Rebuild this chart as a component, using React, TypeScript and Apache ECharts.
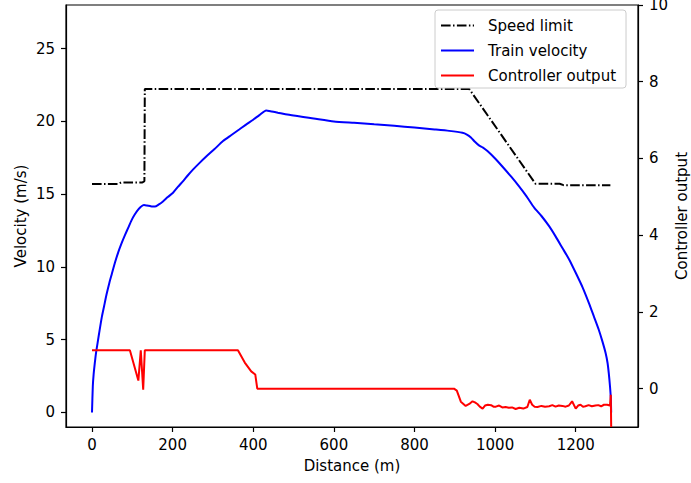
import React, { useEffect, useRef } from "react";
import * as echarts from "echarts";

const xTicks = [0, 200, 400, 600, 800, 1000, 1200];
const yLeftTicks = [0, 5, 10, 15, 20, 25];
const yRightTicks = [0, 2, 4, 6, 8, 10];

const limitDist = [0, 65, 72, 125, 130, 131, 131, 936, 1100, 1160, 1170, 1286];
const limitVals = [15.7, 15.7, 15.8, 15.8, 15.9, 15.9, 22.22, 22.22, 15.72, 15.72, 15.62, 15.62];

const velDist = [0, 2, 4, 7, 10, 14, 18, 24, 30, 36, 43, 49, 57, 65, 73, 82, 90, 98, 106, 115, 122, 129, 136, 144, 150, 156, 165, 176, 188, 201, 213, 226, 238, 251, 267, 284, 304, 325, 345, 366, 383, 399, 416, 432, 446, 461, 500, 550, 600, 650, 700, 750, 800, 850, 886, 919, 930, 940, 950, 960, 970, 981, 1000, 1018, 1040, 1059, 1078, 1097, 1115, 1134, 1150, 1167, 1184, 1200, 1217, 1233, 1245, 1257, 1266, 1274, 1279, 1282, 1285, 1287, 1288];
const velVals = [0, 1.8, 2.6, 3.4, 4.1, 4.8, 5.5, 6.5, 7.3, 8.1, 8.9, 9.5, 10.3, 11.0, 11.6, 12.2, 12.7, 13.2, 13.6, 13.95, 14.15, 14.25, 14.22, 14.18, 14.15, 14.15, 14.28, 14.5, 14.8, 15.1, 15.5, 15.9, 16.3, 16.7, 17.15, 17.6, 18.1, 18.65, 19.05, 19.46, 19.8, 20.1, 20.45, 20.75, 20.68, 20.6, 20.4, 20.2, 20.0, 19.9, 19.8, 19.7, 19.58, 19.45, 19.35, 19.22, 19.1, 18.9, 18.6, 18.35, 18.2, 17.96, 17.45, 16.9, 16.2, 15.55, 14.85, 14.07, 13.5, 12.8, 12.1, 11.3, 10.5, 9.6, 8.6, 7.5, 6.6, 5.7, 4.9, 4.1, 3.4, 2.7, 1.8, 1.0, 0];

const ctrlDist = [0, 94, 115, 121, 127, 131, 362, 379, 395, 405, 410, 898, 905, 915, 927, 936, 944, 950, 956, 962, 969, 975, 982, 990, 996, 1002, 1010, 1018, 1026, 1034, 1042, 1051, 1060, 1070, 1080, 1086, 1092, 1098, 1105, 1115, 1124, 1134, 1142, 1150, 1158, 1167, 1175, 1183, 1191, 1200, 1206, 1212, 1218, 1224, 1232, 1240, 1249, 1256, 1263, 1270, 1278, 1285, 1287, 1288];
const ctrlVals = [1, 1, 0.21, 1, -0.03, 1, 1, 0.68, 0.45, 0.37, 0, 0, -0.05, -0.34, -0.45, -0.4, -0.33, -0.36, -0.4, -0.47, -0.52, -0.44, -0.42, -0.43, -0.47, -0.47, -0.44, -0.49, -0.48, -0.5, -0.49, -0.53, -0.5, -0.52, -0.48, -0.29, -0.42, -0.47, -0.48, -0.45, -0.47, -0.46, -0.43, -0.47, -0.44, -0.45, -0.47, -0.44, -0.33, -0.52, -0.44, -0.42, -0.47, -0.46, -0.43, -0.46, -0.44, -0.43, -0.46, -0.42, -0.42, -0.44, -0.16, -1];

const zip = (a: number[], b: number[]) => a.map((x, i) => [x, b[i]]);

const FONT = "DejaVu Sans";

export default function App() {
  const ref = useRef<HTMLDivElement>(null);
  useEffect(() => {
    if (!ref.current) return;
    const chart = echarts.init(ref.current, undefined, { renderer: "svg" });
    const axisCommon = {
      axisLine: { show: true, onZero: false, lineStyle: { color: "#000", width: 1.2 } },
      axisTick: { show: true, inside: false, length: 5, lineStyle: { color: "#000", width: 1.2 } },
      splitLine: { show: false },
      nameMoveOverlap: false,
      nameTextStyle: { color: "#000", fontSize: 15, fontFamily: FONT },
    };
    const labelStyle = { color: "#000", fontSize: 15, fontFamily: FONT, formatter: (v: number) => String(v) };
    chart.setOption({
      animation: false,
      backgroundColor: "#fff",
      grid: {
        left: 66, right: 53, top: 5, bottom: 56,
        containLabel: false, outerBoundsMode: "none",
        show: true, borderColor: "#000", borderWidth: 1.2, backgroundColor: "transparent",
      },
      legend: {
        orient: "vertical",
        left: 435,
        top: 10,
        padding: [8, 10, 5, 5],
        itemWidth: 33,
        itemHeight: 14,
        itemGap: 10,
        backgroundColor: "rgba(255,255,255,0.8)",
        borderColor: "#cccccc",
        borderWidth: 1,
        borderRadius: 3,
        itemStyle: { opacity: 0 },
        textStyle: { fontSize: 15, fontFamily: FONT, color: "#000", padding: [0, 0, 0, 9] },
        data: ["Speed limit", "Train velocity", "Controller output"],
      },
      xAxis: {
        type: "value",
        min: -64.5,
        max: 1354.5,
        name: "Distance (m)",
        nameLocation: "middle",
        nameGap: 31,
        ...axisCommon,
        axisTick: { ...axisCommon.axisTick, customValues: xTicks },
        axisLabel: { ...labelStyle, customValues: xTicks, margin: 10 },
      },
      yAxis: [
        {
          type: "value",
          min: -1,
          max: 28,
          name: "Velocity (m/s)",
          nameLocation: "middle",
          nameGap: 38,
          ...axisCommon,
          axisTick: { ...axisCommon.axisTick, customValues: yLeftTicks },
          axisLabel: { ...labelStyle, customValues: yLeftTicks, margin: 11 },
        },
        {
          type: "value",
          min: -1,
          max: 10,
          position: "right",
          name: "Controller output",
          nameLocation: "middle",
          nameGap: 36,
          nameRotate: 90,
          ...axisCommon,
          axisTick: { ...axisCommon.axisTick, customValues: yRightTicks },
          axisLabel: { ...labelStyle, customValues: yRightTicks, margin: 11 },
        },
      ],
      series: [
        {
          name: "Speed limit",
          type: "line",
          yAxisIndex: 0,
          data: zip(limitDist, limitVals),
          showSymbol: false,
          symbol: "none",
          color: "#000",
          lineStyle: { color: "#000", width: 2, type: [9.6, 2.4, 1.5, 2.4] },
        },
        {
          name: "Train velocity",
          type: "line",
          yAxisIndex: 0,
          data: zip(velDist, velVals),
          showSymbol: false,
          symbol: "none",
          smooth: 0.2,
          color: "#0000ff",
          lineStyle: { color: "#0000ff", width: 2 },
        },
        {
          name: "Controller output",
          type: "line",
          yAxisIndex: 1,
          data: zip(ctrlDist, ctrlVals),
          showSymbol: false,
          symbol: "none",
          color: "#ff0000",
          lineStyle: { color: "#ff0000", width: 2 },
        },
      ],
    });
    return () => chart.dispose();
  }, []);
  return <div ref={ref} style={{ width: 691, height: 483, position: "absolute", left: 0, top: 0 }} />;
}
